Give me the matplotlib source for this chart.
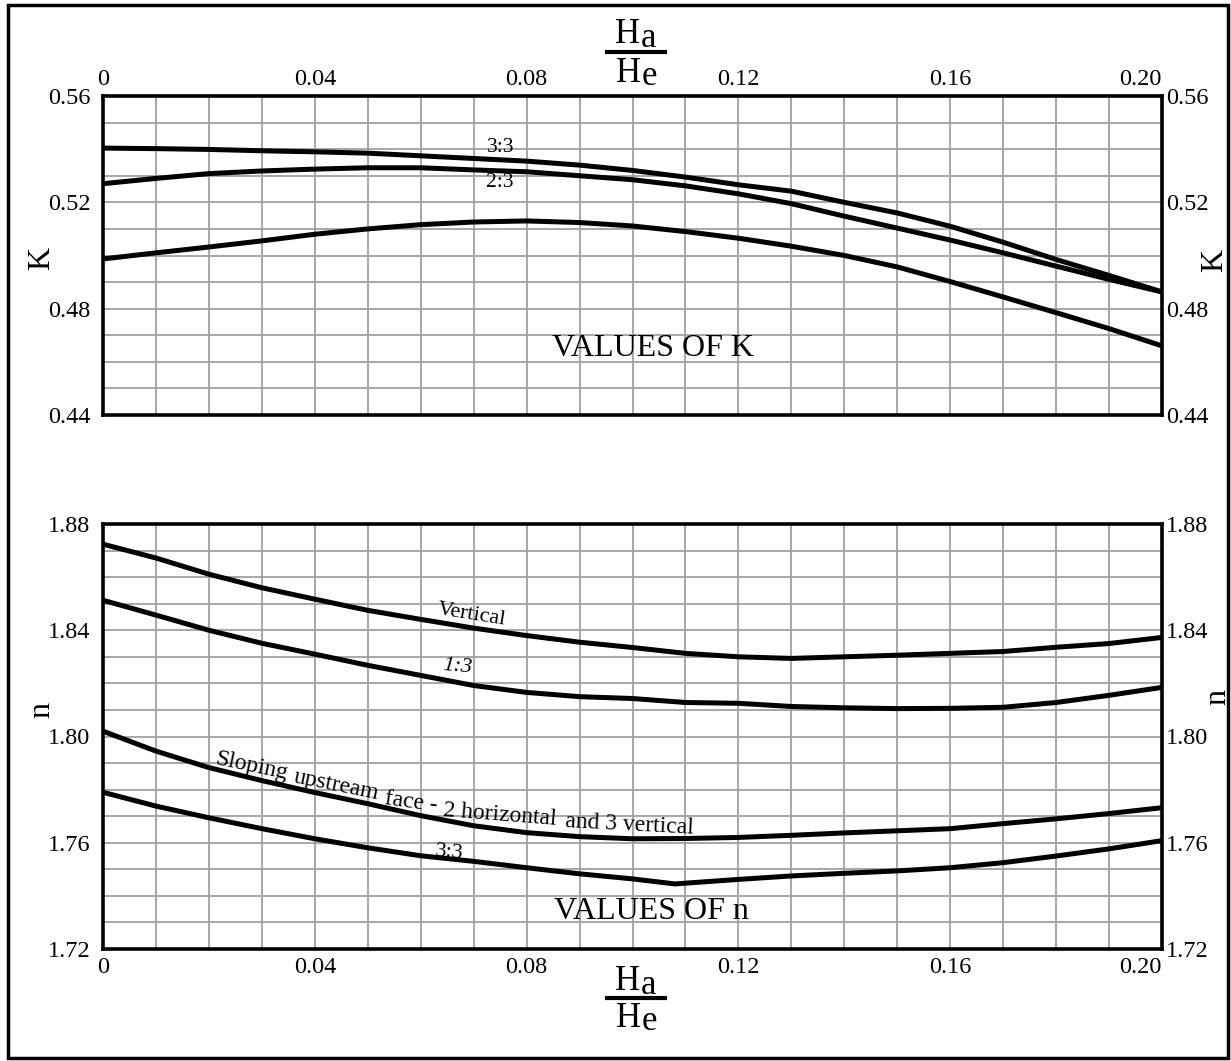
import matplotlib
matplotlib.use('Agg')
import matplotlib.pyplot as plt
import numpy as np
from matplotlib.patches import Rectangle
from matplotlib.lines import Line2D

plt.rcParams['font.family'] = ['Liberation Serif', 'DejaVu Serif']

# ---------------- data ----------------
ratio = [0.00, 0.01, 0.02, 0.03, 0.04, 0.05, 0.06, 0.07, 0.08, 0.09, 0.10,
         0.11, 0.12, 0.13, 0.14, 0.15, 0.16, 0.17, 0.18, 0.19, 0.20]
ratio_n33 = [0.00, 0.01, 0.02, 0.03, 0.04, 0.05, 0.06, 0.07, 0.08, 0.09, 0.10,
             0.108, 0.12, 0.13, 0.14, 0.15, 0.16, 0.17, 0.18, 0.19, 0.20]

k_slope_33 = [0.5404, 0.5402, 0.5399, 0.5394, 0.5390, 0.5385, 0.5375, 0.5365, 0.5355, 0.5340, 0.5320,
              0.5295, 0.5266, 0.5242, 0.5200, 0.5160, 0.5110, 0.5050, 0.4985, 0.4925, 0.4863]
k_slope_23 = [0.5270, 0.5290, 0.5308, 0.5318, 0.5325, 0.5330, 0.5330, 0.5322, 0.5315, 0.5300, 0.5285,
              0.5262, 0.5232, 0.5195, 0.5148, 0.5103, 0.5058, 0.5010, 0.4960, 0.4910, 0.4863]
k_vertical = [0.4987, 0.5010, 0.5032, 0.5055, 0.5080, 0.5100, 0.5116, 0.5126, 0.5130, 0.5124, 0.5111,
              0.5090, 0.5065, 0.5035, 0.5000, 0.4957, 0.4902, 0.4844, 0.4785, 0.4725, 0.4660]

n_vertical = [1.8724, 1.8672, 1.8611, 1.8560, 1.8517, 1.8475, 1.8441, 1.8408, 1.8380, 1.8355, 1.8335,
              1.8313, 1.8300, 1.8294, 1.8300, 1.8306, 1.8313, 1.8320, 1.8336, 1.8350, 1.8373]
n_slope_13 = [1.8513, 1.8457, 1.8400, 1.8351, 1.8310, 1.8268, 1.8230, 1.8192, 1.8166, 1.8150, 1.8143,
              1.8128, 1.8125, 1.8113, 1.8108, 1.8105, 1.8106, 1.8110, 1.8128, 1.8155, 1.8185]
n_slope_23 = [1.8020, 1.7945, 1.7883, 1.7834, 1.7789, 1.7747, 1.7702, 1.7664, 1.7638, 1.7623, 1.7615,
              1.7616, 1.7620, 1.7628, 1.7637, 1.7645, 1.7653, 1.7672, 1.7690, 1.7710, 1.7732]
n_slope_33 = [1.7790, 1.7738, 1.7694, 1.7653, 1.7615, 1.7581, 1.7551, 1.7530, 1.7506, 1.7483, 1.7464,
              1.7445, 1.7462, 1.7475, 1.7485, 1.7494, 1.7506, 1.7525, 1.7550, 1.7577, 1.7608]

x_ticks = [0.00, 0.04, 0.08, 0.12, 0.16, 0.20]
x_ticklabels = ['0', '0.04', '0.08', '0.12', '0.16', '0.20']
k_ticks = [0.44, 0.48, 0.52, 0.56]
k_ticklabels = ['0.44', '0.48', '0.52', '0.56']
n_ticks = [1.72, 1.76, 1.80, 1.84, 1.88]
n_ticklabels = ['1.72', '1.76', '1.80', '1.84', '1.88']

# ---------------- figure ----------------
W, H = 1231, 1061
fig = plt.figure(figsize=(W / 100, H / 100), dpi=100)


def fx(px):
    return px / W


def fy(py):
    return 1 - py / H


LINE_W = 3.6
GRID_C = '#a0a0a0'
TICK_FS = 17.5


def style_axes(ax, ylim, yticks, ylabels, xtop):
    ax.set_xlim(0, 0.20)
    ax.set_ylim(*ylim)
    ax.set_xticks(x_ticks)
    ax.set_xticklabels(x_ticklabels, fontsize=TICK_FS)
    ax.set_xticks(np.arange(0, 0.2001, 0.01), minor=True)
    ax.set_yticks(yticks)
    ax.set_yticklabels(ylabels, fontsize=TICK_FS)
    ax.set_yticks(np.arange(ylim[0], ylim[1] + 1e-9, 0.01), minor=True)
    ax.grid(True, which='both', color=GRID_C, lw=1.3)
    ax.set_axisbelow(True)
    ax.tick_params(which='both', length=0)
    ax.tick_params(axis='y', pad=9)
    if xtop:
        ax.xaxis.tick_top()
        ax.tick_params(axis='x', which='both', length=0, pad=4)
    else:
        ax.tick_params(axis='x', pad=6)
    ax.get_xticklabels()[-1].set_horizontalalignment('right')
    for s in ax.spines.values():
        s.set_linewidth(2.6)
        s.set_color('black')
    # right side labels
    axr = ax.twinx()
    axr.set_ylim(*ylim)
    axr.set_yticks(yticks)
    axr.set_yticklabels(ylabels, fontsize=TICK_FS)
    axr.tick_params(length=0, pad=3)
    for s in axr.spines.values():
        s.set_visible(False)
    return axr


# ---------------- K panel ----------------
ax1 = fig.add_axes([fx(103), fy(415), fx(1162) - fx(103), fy(96) - fy(415)])
ax1r = style_axes(ax1, (0.44, 0.56), k_ticks, k_ticklabels, xtop=True)
ax1.plot(ratio, k_slope_33, color='black', lw=LINE_W, solid_capstyle='butt')
ax1.plot(ratio, k_slope_23, color='black', lw=LINE_W, solid_capstyle='butt')
ax1.plot(ratio, k_vertical, color='black', lw=LINE_W, solid_capstyle='butt')
ax1.text(0.075, 0.5408, '3:3', fontsize=15.5, ha='center', va='center')
ax1.text(0.075, 0.5273, '2:3', fontsize=15.5, ha='center', va='center')
ax1.text(0.1039, 0.4650, 'VALUES OF K', fontsize=23, ha='center', va='center')
ax1.set_ylabel('K', fontsize=23, va='center')
ax1.yaxis.set_label_coords((42 - 103) / 1059, (415 - 258) / 319)
ax1r.set_ylabel('K', fontsize=23, va='center', rotation=90)
ax1r.yaxis.set_label_coords((1215 - 103) / 1059, (415 - 260) / 319)

# ---------------- n panel ----------------
ax2 = fig.add_axes([fx(103), fy(949), fx(1162) - fx(103), fy(524) - fy(949)])
ax2r = style_axes(ax2, (1.72, 1.88), n_ticks, n_ticklabels, xtop=False)
ax2.plot(ratio, n_vertical, color='black', lw=LINE_W, solid_capstyle='butt')
ax2.plot(ratio, n_slope_13, color='black', lw=LINE_W, solid_capstyle='butt')
ax2.plot(ratio, n_slope_23, color='black', lw=LINE_W, solid_capstyle='butt')
ax2.plot(ratio_n33, n_slope_33, color='black', lw=LINE_W, solid_capstyle='butt')

ax2.text(0.0697, 1.8457, 'Vertical', fontsize=16, ha='center', va='center',
         rotation=-9, rotation_mode='anchor')
ax2.text(0.0669, 1.8264, '1:3', fontsize=16, ha='center', va='center', style='italic',
         rotation=-5, rotation_mode='anchor')
ax2.text(0.0655, 1.7562, '3:3', fontsize=16, ha='center', va='center',
         rotation=-5, rotation_mode='anchor')
for word, xw, yw, rot in [('Sloping', 0.0281, 1.7887, -12),
                          ('upstream', 0.0440, 1.7815, -11.5),
                          ('face -', 0.0582, 1.7753, -8),
                          ('2 horizontal', 0.0750, 1.7704, -4.5),
                          ('and 3 vertical', 0.0995, 1.7668, -3)]:
    ax2.text(xw, yw, word, fontsize=17, ha='center', va='center',
             rotation=rot, rotation_mode='anchor')
ax2.text(0.1035, 1.7340, 'VALUES OF n', fontsize=23, ha='center', va='center')
ax2.set_ylabel('n', fontsize=23, va='center')
ax2.yaxis.set_label_coords((42 - 103) / 1059, (949 - 710) / 425)
ax2r.set_ylabel('n', fontsize=23, va='center', rotation=90)
ax2r.yaxis.set_label_coords((1218 - 103) / 1059, (949 - 697) / 425)


# ---------------- Ha / He fraction labels ----------------
def fraction(base_top, bar_y, base_bot, base_top_sub, base_bot_sub):
    fig.text(fx(640), fy(base_top), 'H', fontsize=25, ha='right', va='baseline')
    fig.text(fx(641), fy(base_top_sub), 'a', fontsize=25, ha='left', va='baseline')
    fig.add_artist(Line2D([fx(607), fx(665)], [fy(bar_y), fy(bar_y)],
                          transform=fig.transFigure, color='black', lw=3))
    fig.text(fx(641), fy(base_bot), 'H', fontsize=25, ha='right', va='baseline')
    fig.text(fx(642), fy(base_bot_sub), 'e', fontsize=25, ha='left', va='baseline')


fraction(43, 52, 82, 47, 85)
fraction(990, 998, 1027, 994, 1030)

# ---------------- outer frame ----------------
fig.add_artist(Rectangle((fx(8), fy(1058)), fx(1228) - fx(8), fy(5) - fy(1058),
                         transform=fig.transFigure, fill=False, lw=2.5, ec='black'))

fig.savefig('out.png', dpi=100)
